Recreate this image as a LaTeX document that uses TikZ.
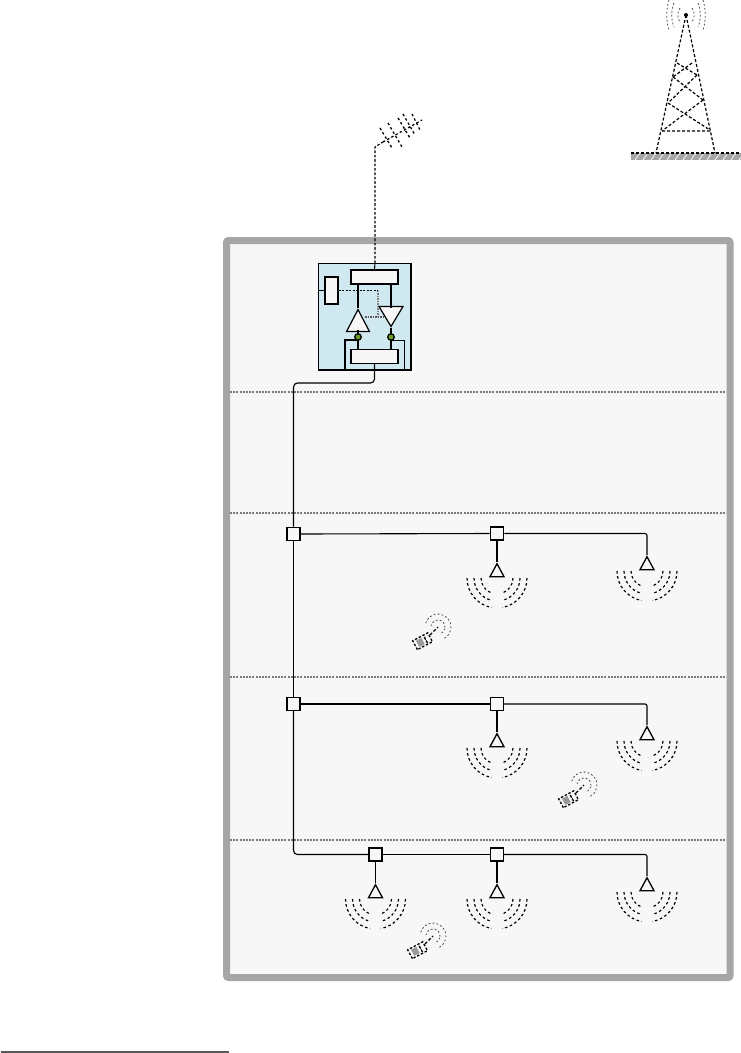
\documentclass[tikz,border=0pt]{standalone}
\usetikzlibrary{shapes.geometric}
\definecolor{framegray}{HTML}{A6A6A6}
\definecolor{floorbg}{HTML}{F7F7F7}
\definecolor{headblue}{HTML}{D0E8EF}
\definecolor{floorline}{HTML}{7A7A7A}
\definecolor{tapgreen}{HTML}{6E9E20}
\tikzset{
  x=1pt,y=1pt,
  splitbox/.style={draw=black,fill=floorbg,rectangle,minimum size=13pt,inner sep=0pt,line width=1.2pt},
  splitboxthick/.style={splitbox,line width=1.8pt},
  ant/.style={draw=black,fill=floorbg,isosceles triangle,isosceles triangle stretches,shape border rotate=90,
     minimum height=13pt,minimum width=14pt,inner sep=0pt,line width=1.3pt,anchor=apex},
  amp/.style={draw=black,fill=floorbg,isosceles triangle,isosceles triangle stretches,inner sep=0pt,line width=1.2pt},
  modbox/.style={draw=black,fill=floorbg,rectangle,inner sep=0pt,line width=1.2pt},
  tap/.style={draw=black,fill=tapgreen,circle,minimum size=6.5pt,inner sep=0pt,line width=1.3pt},
  cable/.style={line width=1.1pt,black},
  thickwire/.style={line width=1.5pt,black},
  wave/.style={line width=1.2pt,black,dash pattern=on 2.6pt off 2.6pt},
  graywave/.style={line width=.8pt,black!70,dash pattern=on 1.8pt off 2.2pt},
  blackdash/.style={line width=1.2pt,black,dash pattern=on 3pt off 2pt},
  floorsep/.style={line width=1.8pt,floorline,dash pattern=on 2pt off 1.2pt},
}
\newcommand{\wavefan}[2]{%
  \foreach \r/\a in {16/70.7,23/76.7,30/79.8}{%
    \draw[wave] ([shift={(180:\r)}]#1,#2) arc[start angle=180,delta angle=\a,radius=\r];
    \draw[wave] ([shift={(0:\r)}]#1,#2) arc[start angle=0,delta angle=-\a,radius=\r];
  }%
}
\newcommand{\handset}[2]{%
  \begin{scope}[shift={(#1,#2)}]
    \foreach \r in {7,13}{%
      \draw[graywave] ([shift={(-5:\r)}]0,0) arc[start angle=-5,end angle=170,radius=\r];
      \draw[graywave] ([shift={(-60:\r)}]0,0) arc[start angle=-60,end angle=-15,radius=\r];
    }
    \begin{scope}[shift={(-15,-14)},rotate=28]
      \fill[black!40] (-6,-3.5) rectangle (0,3.5);
      \draw[line width=1.3pt,dash pattern=on 2.4pt off 1.8pt] (-9,-5) rectangle (8,5);
      \draw[line width=1.3pt,dash pattern=on 3pt off 1pt] (3,-4) -- (3,4);
    \end{scope}
    \draw[line width=1.3pt,dash pattern=on 3pt off 2pt] (-8,-8) -- (0,0);
  \end{scope}%
}
\begin{document}
\begin{tikzpicture}
\useasboundingbox (0,0) rectangle (741,-1053);
\fill[white] (0,0) rectangle (741,-1053);

% building
\draw[framegray,fill=floorbg,line width=7pt,rounded corners=2pt] (226.5,-240.5) rectangle (730,-977.5);
\foreach \y in {392,513,677,840}{\draw[floorsep] (230,-\y) -- (726,-\y);}

% tower
\fill[framegray] (631,-153) rectangle (741,-160);
\foreach \x in {635,643,...,739}{\draw[white,line width=.7pt] (\x,-160) -- (\x+5,-153);}
\draw[blackdash] (631,-153) -- (741,-153);
\fill (686,-15) circle (2);
\draw[blackdash] (686,-15) -- (656,-153);
\draw[blackdash] (686,-15) -- (715,-153);
\draw[blackdash] (677,-63) -- (697,-75) (692,-63) -- (673,-77)
  (673,-77) -- (703,-100) (697,-75) -- (668,-103)
  (668,-103) -- (710,-130) (703,-100) -- (662,-131)
  (662,-131) -- (710,-131);
\foreach \d/\h in {8/7,14/12,19/15}{%
  \draw[graywave] (686-\d+2,-15+\h) .. controls (686-\d-1,-15+\h*.4) and (686-\d-1,-15-\h*.4) .. (686-\d+2,-15-\h);
  \draw[graywave] (686+\d-2,-15+\h) .. controls (686+\d+1,-15+\h*.4) and (686+\d+1,-15-\h*.4) .. (686+\d-2,-15-\h);
}

% rooftop antenna
\coordinate (boomstart) at (383,-142);
\coordinate (boomend) at (422,-120);
\draw[line width=1.3pt,dash pattern=on 2.4pt off 2.4pt] (boomstart) -- (boomend);
\draw[line width=1.3pt,dash pattern=on 2.4pt off 2.6pt] (380,-128) -- (392,-148) (388,-123) -- (402,-147) (398,-118) -- (410,-138)
  (403,-114) -- (415,-135) (412,-114) -- (420,-130);

% head end
\fill[headblue] (318,-263) rectangle (411,-370);
\draw[line width=1pt] (318,-370) -- (318,-263) -- (411,-263);
\draw[line width=2pt] (318,-370) -- (411.5,-370) (411,-370) -- (411,-263);
\node[modbox,minimum width=47pt,minimum height=14pt] (top) at (374.5,-277) {};
\node[modbox,minimum width=47pt,minimum height=14pt] (bot) at (374.5,-356.5) {};
\node[modbox,line width=1.5pt,minimum width=13pt,minimum height=27pt] (ctl) at (331.5,-290.5) {};
\coordinate (edgeL) at (318,-290.5);
\coordinate (ctlbend) at (378,-290.5);
\coordinate (ctlmid) at (378,-317);
\draw[line width=.7pt] (edgeL) -- (ctl.west);
\draw[line width=1pt,dash pattern=on 2pt off 1.5pt] (ctl.east) -- (ctlbend);
\draw[line width=1.2pt,black!50,dash pattern=on 1.5pt off 1pt] (ctlbend) -- (ctlmid);
\draw[line width=1.2pt,black!65,dash pattern=on 1.5pt off 1pt] (365,-317) -- (ctlmid) -- (384,-317);
\node[amp,shape border rotate=90,minimum height=22pt,minimum width=23pt,anchor=apex] (up) at (358,-308) {};
\node[amp,shape border rotate=270,minimum height=20pt,minimum width=24pt,anchor=apex] (down) at (391,-328) {};
\draw[thickwire] (358,-284) -- (up.apex);
\draw[thickwire] (391,-284) -- (391,-308);
\draw[thickwire] (358,-330) -- (358,-349);
\draw[thickwire] (down.apex) -- (391,-349);
\draw[thickwire] (358,-340) -- (345,-340) -- (345,-370);
\draw[line width=.9pt] (391,-340) -- (404,-340) -- (404,-370);
\node[tap] (t1) at (358,-337) {};
\node[tap] (t2) at (391,-337) {};
\draw[line width=1pt] (375,-263) -- (top.north);

% dashed feed to rooftop antenna
\draw[line width=1.1pt,dash pattern=on 2.6pt off 1.8pt] (375,-263) -- (375,-147) -- (boomstart);

% risers and floor distribution
\node[splitboxthick] (s1a) at (293.5,-534) {};
\node[splitboxthick] (s1b) at (497,-533.5) {};
\node[splitbox] (s2a) at (293.5,-704) {};
\node[splitbox] (s2b) at (497,-704) {};
\node[splitboxthick] (s3a) at (375.5,-854.5) {};
\node[splitbox] (s3b) at (497,-854.5) {};

\node[ant] (a11) at (497,-562) {};
\node[ant] (a12) at (647,-555) {};
\node[ant] (a21) at (497,-732) {};
\node[ant] (a22) at (647,-725) {};
\node[ant] (a31) at (375.5,-883) {};
\node[ant] (a32) at (497,-883) {};
\node[ant] (a33) at (647,-876) {};

\draw[cable,rounded corners=4pt] (bot.south) -- (374.5,-383) -- (293.5,-383) -- (s1a.north);
\draw[cable] (s1a) -- (s2a);
\draw[cable,rounded corners=4pt] (s2a.south) -- (293.5,-854.5) -- (s3a.west);
\draw[cable] (s1a.east) -- (s1b.west);
\draw[cable,rounded corners=2pt] (s1b.east) -- (647,-533.5) -- (a12.apex);
\draw[cable] (s2a.east) -- (s2b.west);
\draw[cable,rounded corners=2pt] (s2b.east) -- (647,-704) -- (a22.apex);
\draw[cable] (s3a.east) -- (s3b.west);
\draw[cable,rounded corners=2pt] (s3b.east) -- (647,-854.5) -- (a33.apex);
\draw[cable] (s1b.south) -- (a11.apex);
\draw[cable] (s2b.south) -- (a21.apex);
\draw[cable] (s3a.south) -- (a31.apex);
\draw[cable] (s3b.south) -- (a32.apex);

\wavefan{497}{-578}
\wavefan{647}{-571}
\wavefan{497}{-748}
\wavefan{647}{-741}
\wavefan{375.5}{-899}
\wavefan{497}{-899}
\wavefan{647}{-892}

\handset{438}{-627}
\handset{584}{-785}
\handset{433}{-936}

% rule at the foot
\draw[line width=2pt,black!65] (1,-1052) -- (229,-1052);
\end{tikzpicture}
\end{document}
